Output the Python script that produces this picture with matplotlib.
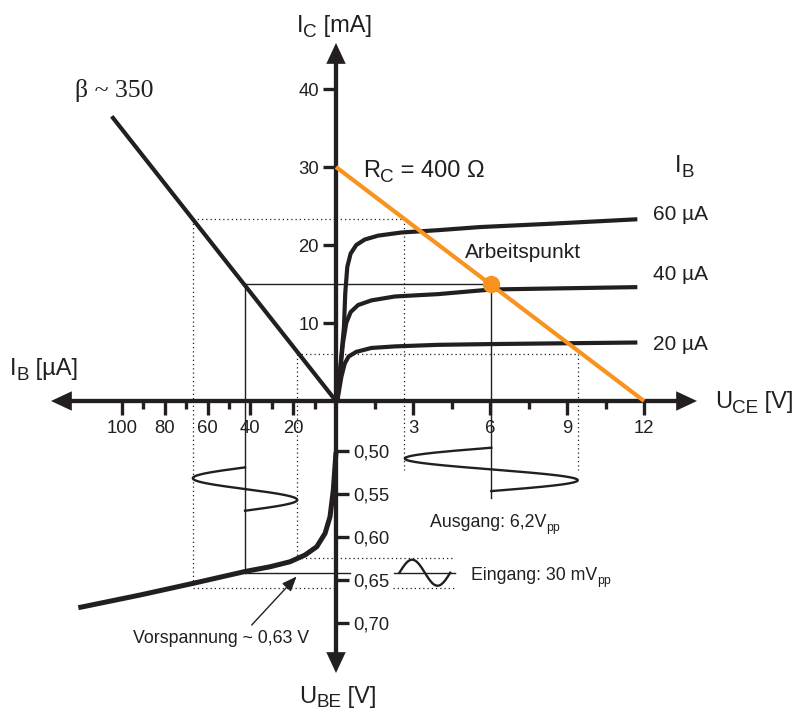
import numpy as np
import matplotlib
matplotlib.use('Agg')
import matplotlib.pyplot as plt
from matplotlib.font_manager import FontProperties

plt.rcParams['font.family'] = ['Liberation Sans', 'DejaVu Sans']

DARK = '#231F20'
ORANGE = '#F7931E'

# ---- Daten ----
# Ausgangskennlinien I_C(U_CE) fuer I_B = 20 / 40 / 60 uA
uce_60 = [0.05, 0.31, 0.36, 0.44, 0.57, 0.79, 1.12, 1.64, 2.54, 3.97, 5.61, 8.21, 11.74]
ic_60 = [0.0, 9.5, 13.8, 17.2, 18.9, 20.0, 20.7, 21.2, 21.6, 21.9, 22.3, 22.7, 23.3]
uce_40 = [0.05, 0.27, 0.40, 0.57, 0.86, 1.38, 2.29, 3.97, 6.07, 11.74]
ic_40 = [0.0, 7.4, 10.0, 11.4, 12.3, 12.9, 13.4, 13.7, 14.3, 14.6]
uce_20 = [0.05, 0.21, 0.34, 0.49, 0.79, 1.38, 2.29, 3.97, 6.07, 11.74]
ic_20 = [0.0, 3.1, 4.8, 5.7, 6.3, 6.8, 7.0, 7.2, 7.3, 7.5]
ib_labels = ['60 µA', '40 µA', '20 µA']
ib_label_ic = [23.2, 15.5, 6.54]

# Eingangskennlinie I_B(U_BE)
ib_in = [0.0, 1.26, 2.8, 5.1, 9.0, 14.5, 21.5, 30.8, 42.5, 66.7, 91.6, 120.4]
ube_in = [0.5015, 0.5456, 0.5766, 0.5958, 0.6114, 0.621, 0.6288, 0.6346, 0.6401, 0.6538, 0.6674, 0.6821]

# Stromverstaerkung (beta ~ 350) und Arbeitsgerade (R_C = 400 Ohm)
ib_beta = [0.0, 104.8]
ic_beta = [0.0, 36.5]
uce_load = [0.0, 12.0]
ic_load = [30.0, 0.0]

# Arbeitspunkt
UCE_Q, IC_Q, IB_Q, UBE_Q = 6.05, 15.0, 42.5, 0.6415

# Aussteuerungsgrenzen (punktiert)
IB_HI, IC_HI, UCE_LO = 67.0, 23.3, 2.65
IB_LO, IC_LO, UCE_HI = 18.0, 6.0, 9.42
UBE_LO, UBE_HI = 0.625, 0.659

# Signale
out_amp, out_ube = 3.37, [0.4965, 0.5468]   # Ausgang, U_CE-Amplitude
in_amp, in_ube = 24.4, [0.5193, 0.5696]     # I_B-Amplitude
ein_amp, ein_uce = 0.0151, [2.47, 4.45]     # Eingang, U_BE-Amplitude

# Achsenteilung
uce_ticks, uce_minor = [3, 6, 9, 12], [1.5, 4.5, 7.5, 10.5]
ic_ticks = [10, 20, 30, 40]
ib_ticks, ib_minor = [20, 40, 60, 80, 100], [10, 30, 50, 70, 90]
ube_ticks = [0.50, 0.55, 0.60, 0.65, 0.70]
ube_ticklabels = ['0,50', '0,55', '0,60', '0,65', '0,70']

# ---- Layout ----
W, H = 802, 714
OX, OY = 336, 401                      # Ursprung in Pixeln
PX_V, PX_MA, PX_UA, PX_VBE = 25.67, 7.8, 2.14, 862.0
UBE0 = 0.4423

fig = plt.figure(figsize=(W / 100, H / 100), dpi=100)
renderer = fig.canvas.get_renderer()


def make_ax(xlim, ylim):
    ax = fig.add_axes([0, 0, 1, 1])
    ax.set_xlim(*xlim)
    ax.set_ylim(*ylim)
    ax.patch.set_visible(False)
    for s in ax.spines.values():
        s.set_visible(False)
    ax.set_xticks([])
    ax.set_yticks([])
    return ax


uce_lim = (-OX / PX_V, (W - OX) / PX_V)
ib_lim = (OX / PX_UA, -(W - OX) / PX_UA)
ic_lim = (-(H - OY) / PX_MA, OY / PX_MA)
ube_lim = (UBE0 + (H - OY) / PX_VBE, UBE0 - OY / PX_VBE)

axB = make_ax(ib_lim, ic_lim)    # I_B  / I_C
axC = make_ax(ib_lim, ube_lim)   # I_B  / U_BE
axD = make_ax(uce_lim, ube_lim)  # U_CE / U_BE
axA = make_ax(uce_lim, ic_lim)   # U_CE / I_C


def text_w(s, size, family='Liberation Sans'):
    prop = FontProperties(family=family, size=size)
    w1 = renderer.get_text_width_height_descent('|' + s + '|', prop, ismath=False)[0]
    w0 = renderer.get_text_width_height_descent('||', prop, ismath=False)[0]
    return (w1 - w0) * 72 / fig.dpi


def sub_text(ax, x, y, parts, size, sub_scale=0.8, drop=0.22):
    off = 0.0
    for s, is_sub in parts:
        fs = size * sub_scale if is_sub else size
        dy = -size * drop if is_sub else 0
        ax.annotate(s, (x, y), xytext=(off, dy), textcoords='offset points',
                    fontsize=fs, ha='left', va='baseline', color=DARK)
        off += text_w(s, fs)


def arrow_head(ax, tip, base):
    ax.annotate('', xy=tip, xytext=base,
                arrowprops=dict(arrowstyle='-|>,head_length=15,head_width=7',
                                mutation_scale=1, lw=0, fc=DARK, ec=DARK,
                                shrinkA=0, shrinkB=0))


# ---- Achsen mit Pfeilen ----
AX_LW = 3.1
r_tip = (697 - OX) / PX_V
l_tip = (OX - 51) / PX_UA
t_tip = (OY - 43) / PX_MA
b_tip = UBE0 + (673 - OY) / PX_VBE
axA.plot([0, r_tip - 10 / PX_V], [0, 0], color=DARK, lw=AX_LW, solid_capstyle='butt', zorder=3)
arrow_head(axA, (r_tip, 0), (0, 0))
axB.plot([0, l_tip - 10 / PX_UA], [0, 0], color=DARK, lw=AX_LW, solid_capstyle='butt', zorder=3)
arrow_head(axB, (l_tip, 0), (0, 0))
axA.plot([0, 0], [0, t_tip - 10 / PX_MA], color=DARK, lw=AX_LW, solid_capstyle='butt', zorder=3)
arrow_head(axA, (0, t_tip), (0, 0))
axD.plot([0, 0], [UBE0, b_tip - 10 / PX_VBE], color=DARK, lw=AX_LW, solid_capstyle='butt', zorder=3)
arrow_head(axD, (0, b_tip), (0, UBE0))

# Teilstriche
tick_kw = dict(direction='out', colors=DARK, width=2.4, labelsize=13.3)
axA.spines['bottom'].set_position(('data', 0))
axA.set_xticks(uce_ticks)
axA.set_xticks(uce_minor, minor=True)
axA.tick_params(axis='x', which='major', length=10, pad=4, **tick_kw)
axA.tick_params(axis='x', which='minor', length=5.5, direction='out', colors=DARK, width=2.4)
axA.spines['left'].set_position(('data', 0))
axA.set_yticks(ic_ticks)
axA.tick_params(axis='y', which='major', length=9.4, pad=3, **tick_kw)

axB.spines['bottom'].set_position(('data', 0))
axB.set_xticks(ib_ticks)
axB.set_xticks(ib_minor, minor=True)
axB.tick_params(axis='x', which='major', length=10, pad=4, **tick_kw)
axB.tick_params(axis='x', which='minor', length=5.5, direction='out', colors=DARK, width=2.4)

axD.yaxis.tick_right()
axD.spines['right'].set_position(('data', 0))
axD.set_yticks(ube_ticks)
axD.set_yticklabels(ube_ticklabels)
axD.tick_params(axis='y', which='major', length=9.4, pad=3, **tick_kw)

# ---- punktierte Hilfslinien ----
dot = dict(color=DARK, lw=0.9, ls=(0, (1, 2.4)), zorder=1)
axB.plot([IB_HI, 0], [IC_HI, IC_HI], **dot)
axA.plot([0, UCE_LO], [IC_HI, IC_HI], **dot)
axB.plot([IB_LO, 0], [IC_LO, IC_LO], **dot)
axA.plot([0, UCE_HI], [IC_LO, IC_LO], **dot)
axB.plot([IB_HI, IB_HI], [IC_HI, 0], **dot)
axC.plot([IB_HI, IB_HI], [UBE0, UBE_HI], **dot)
axB.plot([IB_LO, IB_LO], [IC_LO, 0], **dot)
axC.plot([IB_LO, IB_LO], [UBE0, UBE_LO], **dot)
axA.plot([UCE_LO, UCE_LO], [IC_HI, 0], **dot)
axD.plot([UCE_LO, UCE_LO], [UBE0, 0.5224], **dot)
axA.plot([UCE_HI, UCE_HI], [IC_LO, 0], **dot)
axD.plot([UCE_HI, UCE_HI], [UBE0, 0.5224], **dot)
axC.plot([IB_LO, 0], [UBE_LO, UBE_LO], **dot)
axD.plot([0, 4.64], [UBE_LO, UBE_LO], **dot)
axC.plot([IB_HI, 0], [UBE_HI, UBE_HI], **dot)
axD.plot([2.22, 4.64], [UBE_HI, UBE_HI], **dot)

# ---- duenne Linien zum Arbeitspunkt ----
thin = dict(color=DARK, lw=1.0, zorder=2)
axB.plot([IB_Q, 0], [IC_Q, IC_Q], **thin)
axA.plot([0, UCE_Q], [IC_Q, IC_Q], **thin)
axB.plot([IB_Q, IB_Q], [IC_Q, 0], **thin)
axC.plot([IB_Q, IB_Q], [UBE0, UBE_Q], **thin)
axA.plot([UCE_Q, UCE_Q], [IC_Q, 0], **thin)
axD.plot([UCE_Q, UCE_Q], [UBE0, 0.5549], **thin)
axC.plot([IB_Q, 0], [UBE_Q, UBE_Q], **thin)
axD.plot([0, 0.55], [UBE_Q, UBE_Q], **thin)
axD.plot([2.27, 4.64], [UBE_Q, UBE_Q], **thin)

# ---- Sinussignale ----
sig = dict(color=DARK, lw=1.7, zorder=2)
t = np.linspace(0, 1, 200)
ube_t = out_ube[0] + (out_ube[1] - out_ube[0]) * t
axD.plot(UCE_Q - out_amp * np.sin(2 * np.pi * t), ube_t, **sig)
ube_t = in_ube[0] + (in_ube[1] - in_ube[0]) * t
axC.plot(IB_Q + in_amp * np.sin(2 * np.pi * t), ube_t, **sig)
uce_t = ein_uce[0] + (ein_uce[1] - ein_uce[0]) * t
axD.plot(uce_t, UBE_Q - ein_amp * np.sin(2 * np.pi * t), **sig)

# ---- Kennlinien ----
thick = dict(color=DARK, lw=3.0, solid_joinstyle='round', solid_capstyle='butt', zorder=4)
axA.plot(uce_60, ic_60, **thick)
axA.plot(uce_40, ic_40, **thick)
axA.plot(uce_20, ic_20, **thick)
axC.plot(ib_in, ube_in, color=DARK, lw=3.6, solid_joinstyle='round', solid_capstyle='butt', zorder=4)
axB.plot(ib_beta, ic_beta, **thick)
axA.plot(uce_load, ic_load, color=ORANGE, lw=3.0, solid_capstyle='butt', zorder=5)
axA.plot([UCE_Q], [IC_Q], 'o', color=ORANGE, ms=12.5, mew=0, zorder=6)

# ---- Beschriftung ----
axB.text(122, 39.0, 'β ~ 350', family='Liberation Serif', fontsize=18.5,
         ha='left', va='baseline', color=DARK)
sub_text(axA, -1.52, 47.35, [('I', False), ('C', True), (' [mA]', False)], 17)
sub_text(axA, 1.06, 28.76, [('R', False), ('C', True), (' = 400 Ω', False)], 17)
sub_text(axA, 13.2, 29.4, [('I', False), ('B', True)], 17)
sub_text(axB, 152.3, 3.33, [('I', False), ('B', True), (' [µA]', False)], 17)
sub_text(axA, 14.76, -0.9, [('U', False), ('CE', True), (' [V]', False)], 17)
sub_text(axD, -1.44, 0.7925, [('U', False), ('BE', True), (' [V]', False)], 17, drop=0.18)
for lab, ic in zip(ib_labels, ib_label_ic):
    axA.text(12.36, ic, lab, fontsize=15, ha='left', va='baseline', color=DARK)
axA.text(5.03, 18.3, 'Arbeitspunkt', fontsize=15, ha='left', va='baseline', color=DARK)
sub_text(axD, 3.66, 0.5889, [('Ausgang: 6,2V', False), ('pp', True)], 12.8, sub_scale=0.7, drop=0.2)
sub_text(axD, 5.26, 0.650, [('Eingang: 30 mV', False), ('pp', True)], 12.8, sub_scale=0.7, drop=0.2)
axC.text(94.7, 0.7227, 'Vorspannung ~ 0,63 V', fontsize=12.8, ha='left', va='baseline', color=DARK)
axC.annotate('', xy=(18.4, 0.6459), xytext=(39.4, 0.7022),
             arrowprops=dict(arrowstyle='-|>,head_length=9,head_width=3.6', mutation_scale=1,
                             lw=1.0, color=DARK, shrinkA=0, shrinkB=0))

fig.savefig('out.png', dpi=100, facecolor='white')
